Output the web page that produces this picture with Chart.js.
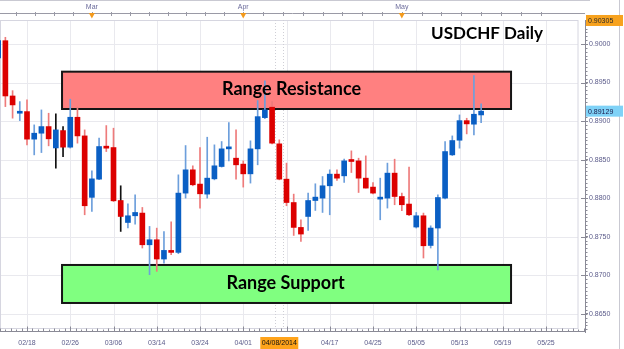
<!DOCTYPE html>
<html><head><meta charset="utf-8">
<script src="https://cdn.jsdelivr.net/npm/chart.js@4.4.1/dist/chart.umd.min.js"></script>
<style>html,body{margin:0;padding:0;background:#fff;}#wrap{width:624px;height:349px;}</style>
</head><body><div id="wrap"><canvas id="c" width="624" height="349"></canvas></div>
<script>
// ---- data (x = trading-day index, 0 = 02/18) ----
const firstIndex = -4;
const opens  = [0.89819,0.90043,0.89326,0.89102,0.89123,0.88766,0.88843,0.88929,0.88652,0.88877,
                0.88662,0.89050,0.88808,0.88011,0.88247,0.88675,0.88657,0.87970,0.87685,0.87772,
                0.87807,0.87396,0.87461,0.87211,0.87319,0.87297,0.88066,0.88368,0.88183,0.88053,
                0.88251,0.88411,0.88640,0.88519,0.88442,0.88316,0.88640,0.89045,0.89180,0.88705,
                0.88247,0.87944,0.87621,0.87763,0.87970,0.88001,0.88161,0.88312,0.88290,0.88489,
                0.88484,0.88260,0.88144,0.87988,0.88001,0.88325,0.88022,0.87924,0.87626,0.87772,
                0.87387,0.87613,0.88001,0.88562,0.88752,0.89006,0.88960,0.89080];
const highs  = [0.90100,0.90087,0.89395,0.89253,0.89275,0.88951,0.89145,0.89102,0.89093,0.88929,
                0.89284,0.89180,0.88886,0.88355,0.88779,0.88942,0.88908,0.88161,0.87927,0.88044,
                0.87880,0.87634,0.87612,0.87566,0.87695,0.88303,0.88683,0.88420,0.88657,0.88791,
                0.88692,0.88735,0.88981,0.88886,0.88484,0.88744,0.89266,0.89521,0.89253,0.88757,
                0.88455,0.88053,0.87720,0.88066,0.88187,0.88281,0.88368,0.88368,0.88506,0.88614,
                0.88519,0.88549,0.88204,0.88260,0.88455,0.88506,0.88066,0.88403,0.87815,0.87807,
                0.87642,0.88044,0.88735,0.88808,0.89080,0.89037,0.89589,0.89223];
const lows   = [0.89780,0.89188,0.89038,0.89006,0.88692,0.88562,0.88592,0.88679,0.88390,0.88540,
                0.88650,0.88714,0.87785,0.87828,0.88240,0.88605,0.87957,0.87569,0.87613,0.87664,
                0.87354,0.87008,0.87051,0.87156,0.87267,0.87280,0.88001,0.88161,0.87872,0.88001,
                0.88238,0.88403,0.88484,0.88247,0.88144,0.88196,0.88433,0.89030,0.88705,0.88238,
                0.87902,0.87517,0.87439,0.87582,0.87841,0.87815,0.87785,0.88230,0.88204,0.88333,
                0.88074,0.88131,0.88057,0.87720,0.87872,0.87915,0.87837,0.87772,0.87613,0.87224,
                0.87354,0.87069,0.87992,0.88553,0.88649,0.88834,0.88821,0.88981];
const closes = [0.90043,0.89326,0.89210,0.89123,0.88766,0.88843,0.88929,0.88770,0.88886,0.88662,
                0.89050,0.88808,0.87902,0.88251,0.88670,0.88649,0.87966,0.87763,0.87772,0.87815,
                0.87396,0.87461,0.87211,0.87323,0.87297,0.88066,0.88368,0.88174,0.88057,0.88260,
                0.88420,0.88640,0.88662,0.88433,0.88316,0.88640,0.89058,0.89145,0.88714,0.88247,
                0.87944,0.87621,0.87535,0.87970,0.88014,0.88161,0.88312,0.88260,0.88484,0.88476,
                0.88260,0.88131,0.88066,0.88009,0.88325,0.88022,0.87915,0.87785,0.87772,0.87383,
                0.87613,0.88009,0.88605,0.88748,0.89006,0.88964,0.89089,0.89129];
const markedWicks = [4, 5, 13];
const xTickIdx    = [0, 6, 12, 18, 24, 30, 36, 42, 48, 54, 60, 66, 72];
const xTickLabels = ['02/18','02/26','03/06','03/14','03/24','04/01','','04/17','04/25','05/05','05/13','05/19','05/25'];
const monthIdx    = [9, 30, 52];
const monthLabels = ['Mar', 'Apr', 'May'];
const yTicks      = [0.865, 0.870, 0.875, 0.880, 0.885, 0.890, 0.895, 0.900];
const highLabel   = 0.90305;
const lastLabel   = 0.89129;
const cursorIdx   = 35;
const cursorLabel = '04/08/2014';
const resistanceRange = [4.86, 67.15, 0.89157, 0.89641];
const supportRange    = [4.86, 67.15, 0.86641, 0.87134];
const resistanceText  = 'Range Resistance';
const supportText     = 'Range Support';
const titleText       = 'USDCHF Daily';

// ---- styling ----
const BLUE = '#0a5fc4', RED = '#dc0000';
const BLUE_W = '#6d9fdc', RED_W = '#ee7b7b';
const AXIS_TXT = '#5b5b8a';
const FONT = 'Liberation Sans, Arial, sans-serif';

const idx = opens.map((_, k) => firstIndex + k);
const up = opens.map((o, k) => closes[k] >= o);
const bodyData = idx.map((x, k) => ({ x, y: [opens[k], closes[k]] }));
const wickData = idx.map((x, k) => ({ x, y: [lows[k], highs[k]] }));
const wickColors = idx.map((x, k) => markedWicks.includes(x) ? '#111' : (up[k] ? BLUE_W : RED_W));

const deco = {
  id: 'deco',
  beforeDraw(chart) {
    const { ctx } = chart;
    ctx.save(); ctx.fillStyle = '#fff'; ctx.fillRect(0, 0, chart.width, chart.height); ctx.restore();
  },
  beforeDatasetsDraw(chart) {
    const { ctx, chartArea: a, scales: { x, y } } = chart;
    const frameR = a.right - 7, frameB = a.bottom - 4;
    ctx.save();
    // grid
    ctx.strokeStyle = '#e9e9ee'; ctx.lineWidth = 1;
    ctx.beginPath();
    xTickIdx.forEach(v => { const px = Math.round(x.getPixelForValue(v)) + 0.5; if (px < frameR) { ctx.moveTo(px, a.top); ctx.lineTo(px, frameB); } });
    yTicks.forEach(v => { const py = Math.round(y.getPixelForValue(v)) + 0.5; ctx.moveTo(a.left, py); ctx.lineTo(frameR, py); });
    ctx.stroke();
    // frame
    ctx.strokeStyle = '#d6d6e0';
    ctx.strokeRect(a.left + 0.5, a.top + 0.5, frameR - a.left - 0.5, frameB - a.top);
    // cursor dotted lines
    ctx.strokeStyle = '#cfcfd6'; ctx.setLineDash([1, 2]);
    const cx = x.getPixelForValue(cursorIdx);
    ctx.beginPath();
    [Math.round(cx) - 3.5, Math.round(cx) + 4.5].forEach(px => { ctx.moveTo(px, a.top); ctx.lineTo(px, frameB); });
    ctx.stroke(); ctx.setLineDash([]);
    // boxes
    [[resistanceRange, '#ff8080'], [supportRange, '#80ff80']].forEach(([r, col]) => {
      const x0 = x.getPixelForValue(r[0]), x1 = x.getPixelForValue(r[1]);
      const y0 = y.getPixelForValue(r[3]), y1 = y.getPixelForValue(r[2]);
      ctx.fillStyle = col; ctx.fillRect(x0, y0, x1 - x0, y1 - y0);
      ctx.strokeStyle = '#151515'; ctx.lineWidth = 2; ctx.strokeRect(x0, y0, x1 - x0, y1 - y0);
    });
    ctx.restore();
  },
  afterDatasetsDraw(chart) {
    const { ctx, scales: { x, y } } = chart;
    ctx.save();
    ctx.fillStyle = '#000'; ctx.textAlign = 'center'; ctx.textBaseline = 'middle';
    ctx.font = 'bold 18px Lato, sans-serif';
    [[resistanceRange, resistanceText, 5], [supportRange, supportText, -1]].forEach(([r, t, dx]) => {
      const cxp = (x.getPixelForValue(r[0]) + x.getPixelForValue(r[1])) / 2 + dx;
      const cyp = (y.getPixelForValue(r[2]) + y.getPixelForValue(r[3])) / 2 - 1;
      ctx.fillText(t, cxp, cyp);
    });
    ctx.restore();
  },
  afterDraw(chart) {
    const { ctx, chartArea: a, scales: { x, y } } = chart;
    ctx.save();
    // outer right border and top line
    ctx.strokeStyle = '#c9c9d2'; ctx.lineWidth = 1;
    ctx.beginPath(); ctx.moveTo(619.5, 0); ctx.lineTo(619.5, chart.height);
    ctx.moveTo(0, 0.5); ctx.lineTo(a.right + 5, 0.5); ctx.stroke();
    // top axis
    ctx.strokeStyle = '#9a9aa6';
    ctx.beginPath(); ctx.moveTo(a.left, 13.5); ctx.lineTo(a.right, 13.5);
    const anchors = [-12].concat(monthIdx, [74]);
    for (let s = 0; s < anchors.length - 1; s++) {
      for (let k = 0; k < 8; k++) {
        const v = anchors[s] + (anchors[s + 1] - anchors[s]) * k / 8;
        const px = Math.round(x.getPixelForValue(v)) + 0.5;
        if (px > a.left && px < a.right) { ctx.moveTo(px, 12); ctx.lineTo(px, 16); }
      }
    }
    ctx.stroke();
    ctx.font = '7px ' + FONT; ctx.fillStyle = '#6c6c9c'; ctx.textAlign = 'center'; ctx.textBaseline = 'middle';
    monthIdx.forEach((v, k) => {
      const px = x.getPixelForValue(v);
      ctx.fillText(monthLabels[k], px, 7);
      ctx.fillStyle = '#f39a1c';
      ctx.beginPath(); ctx.moveTo(px - 3, 13); ctx.lineTo(px + 3, 13); ctx.lineTo(px, 18.5); ctx.closePath(); ctx.fill();
      ctx.fillStyle = '#6c6c9c';
    });
    // bottom axis
    const by = a.bottom - 0.5;
    ctx.strokeStyle = '#8a8a96';
    ctx.beginPath(); ctx.moveTo(a.left, by); ctx.lineTo(a.right, by);
    for (let v = -3.75, k = 0; v < 78; v += 0.75, k++) {
      const px = Math.round(x.getPixelForValue(v)) + 0.5;
      if (px < a.left || px > a.right) continue;
      const major = Math.abs(((v % 6) + 6) % 6) < 0.01;
      const h = major ? 5 : (k % 2 === 0 ? 3 : 2);
      ctx.moveTo(px, by); ctx.lineTo(px, by - h);
    }
    ctx.stroke();
    ctx.fillStyle = AXIS_TXT; ctx.font = '7px ' + FONT;
    xTickIdx.forEach((v, k) => { if (xTickLabels[k]) ctx.fillText(xTickLabels[k], x.getPixelForValue(v), 343); });
    // y minor ticks
    ctx.strokeStyle = '#8a8a96';
    ctx.beginPath();
    for (let v = 0.8630; v < 0.9035; v += 0.0005) {
      const py = Math.round(y.getPixelForValue(v)) + 0.5;
      if (py < a.top || py > a.bottom) continue;
      ctx.moveTo(a.right, py); ctx.lineTo(a.right + 2.5, py);
    }
    yTicks.forEach(v => { const py = Math.round(y.getPixelForValue(v)) + 0.5; ctx.moveTo(a.right - 4, py); ctx.lineTo(a.right, py); });
    ctx.stroke();
    // highlighted price labels
    ctx.textAlign = 'left';
    [[highLabel, '#f7a21e', '#2a2a2a'], [lastLabel, '#7fd2f7', '#1a1a4a']].forEach(([v, bg, fg]) => {
      const py = y.getPixelForValue(v);
      ctx.fillStyle = bg; ctx.fillRect(a.right + 1, py - 5.5, 37, 11);
      ctx.fillStyle = fg; ctx.fillText(v.toFixed(5), a.right + 3, py + 0.5);
    });
    // cursor date label
    const cx = x.getPixelForValue(cursorIdx);
    ctx.fillStyle = '#ffa31a'; ctx.fillRect(cx - 19, 337, 38, 12);
    ctx.fillStyle = '#111'; ctx.textAlign = 'center'; ctx.fillText(cursorLabel, cx, 343.5);
    // title
    ctx.font = 'bold 17px Lato, sans-serif'; ctx.fillStyle = '#000'; ctx.textAlign = 'center';
    ctx.fillText(titleText, 487, 34);
    ctx.restore();
  }
};

new Chart(document.getElementById('c'), {
  type: 'bar',
  data: {
    datasets: [
      { label: 'body', data: bodyData, backgroundColor: up.map(u => u ? BLUE : RED), barThickness: 5, minBarLength: 2, grouped: false, order: 1, borderWidth: 0 },
      { label: 'wick', data: wickData, backgroundColor: wickColors, barThickness: 1, grouped: false, order: 2, borderWidth: 0 }
    ]
  },
  options: {
    responsive: false, animation: false,
    layout: { padding: { top: 20, bottom: 17, left: 0, right: 0 } },
    plugins: { legend: { display: false }, tooltip: { enabled: false } },
    scales: {
      x: { type: 'linear', min: -3.746, max: 77.41, display: false, offset: false },
      y: {
        type: 'linear', position: 'right', min: 0.862646, max: 0.903113,
        afterFit(s) { s.width = 39; },
        afterBuildTicks(s) { s.ticks = yTicks.map(v => ({ value: v })); },
        ticks: { callback: v => Number(v).toFixed(4), font: { family: FONT, size: 7 }, color: AXIS_TXT, padding: 1 },
        grid: { drawOnChartArea: false, tickLength: 3, color: '#8a8a96' },
        border: { display: true, color: '#8a8a96' }
      }
    }
  },
  plugins: [deco]
});
</script>
</body></html>
